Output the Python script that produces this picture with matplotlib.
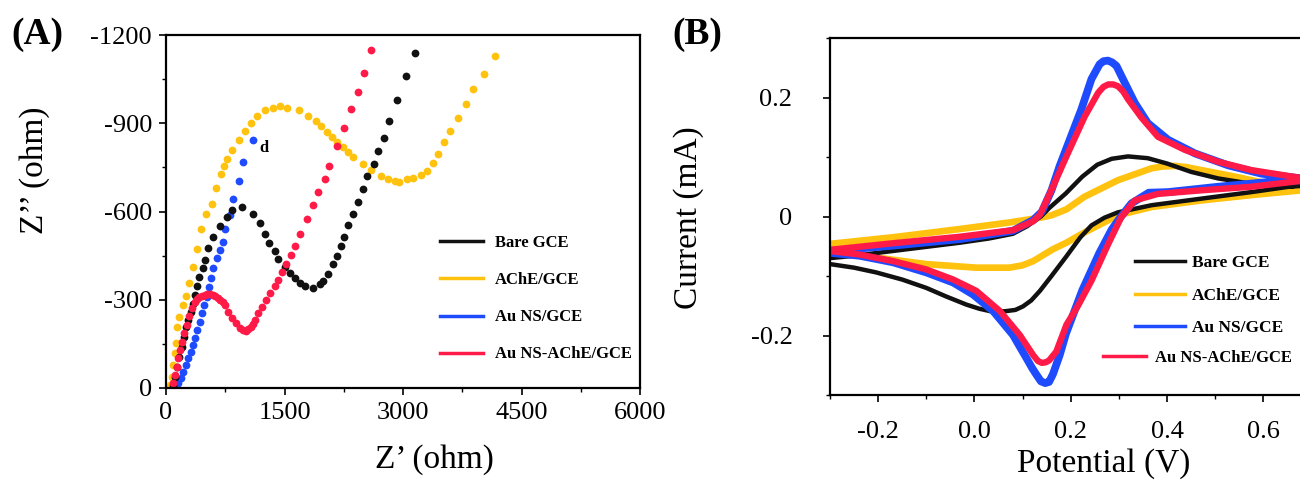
import matplotlib
matplotlib.use("Agg")
import matplotlib.pyplot as plt
from matplotlib.lines import Line2D
from matplotlib.ticker import MultipleLocator

plt.rcParams['font.family'] = ['Liberation Serif', 'DejaVu Serif']
plt.rcParams['axes.unicode_minus'] = False

series = ["Bare GCE", "AChE/GCE", "Au NS/GCE", "Au NS-AChE/GCE"]
colors = ["#111111", "#FFC20E", "#1F4BFF", "#FF1A47"]

# ---- (A) Nyquist data, Z' and Z'' in ohm ----
bare_zre = [93, 114, 135, 169, 198, 228, 253, 283, 313, 338, 367, 395, 422, 464, 494, 536, 591, 684, 768, 832,
            958, 1105, 1190, 1253, 1308, 1380, 1422, 1507, 1570, 1633, 1696, 1760, 1865, 1950, 1984, 2055, 2118,
            2165, 2211, 2258, 2308, 2363, 2435, 2498, 2549, 2634, 2688, 2764, 2823, 2921, 3042, 3156]
bare_zim = [-10, -38, -72, -106, -140, -174, -208, -231, -259, -285, -316, -347, -378, -407, -435, -475, -512,
            -550, -582, -605, -616, -590, -562, -523, -494, -466, -437, -412, -390, -373, -356, -347, -339, -352,
            -363, -386, -420, -449, -483, -514, -554, -592, -633, -676, -720, -763, -806, -850, -908, -979,
            -1061, -1139]

ache_zre = [55, 72, 93, 114, 127, 143, 169, 211, 253, 295, 346, 388, 443, 506, 586, 633, 692, 734, 768, 832,
            920, 1000, 1072, 1156, 1253, 1351, 1443, 1536, 1684, 1794, 1895, 1962, 2034, 2097, 2160, 2245, 2308,
            2371, 2498, 2591, 2718, 2807, 2899, 2954, 3047, 3131, 3225, 3300, 3385, 3448, 3520, 3600, 3693,
            3794, 3891, 4026, 4165]
ache_zim = [-10, -38, -78, -118, -152, -208, -242, -282, -313, -358, -410, -471, -540, -593, -627, -681, -726,
            -754, -778, -808, -842, -874, -901, -924, -946, -953, -959, -952, -944, -925, -908, -890, -870, -853,
            -836, -820, -803, -786, -761, -741, -721, -710, -703, -701, -710, -713, -725, -738, -765, -797, -835,
            -872, -918, -965, -1015, -1069, -1129]

ns_zre = [156, 186, 219, 253, 283, 313, 346, 367, 396, 430, 452, 481, 515, 548, 566, 599, 642, 680, 718, 747,
          810, 852, 928, 979, 1105]
ns_zim = [-16, -33, -55, -78, -101, -123, -146, -169, -197, -225, -254, -282, -310, -344, -373, -407, -441, -470,
          -497, -539, -588, -641, -704, -767, -842]

nsache_zre = [93, 114, 135, 156, 177, 198, 228, 262, 295, 325, 367, 395, 422, 458, 494, 525, 557, 590, 620, 652,
              684, 716, 747, 789, 832, 886, 937, 975, 1013, 1043, 1072, 1100, 1127, 1169, 1212, 1266, 1317, 1380,
              1422, 1465, 1519, 1579, 1633, 1696, 1781, 1857, 1928, 2009, 2068, 2169, 2253, 2342, 2427, 2507, 2595]
nsache_zim = [-16, -44, -72, -101, -129, -157, -186, -214, -245, -271, -293, -302, -308, -313, -316, -318, -319,
              -317, -313, -307, -299, -291, -282, -259, -237, -220, -203, -198, -195, -200, -208, -219, -231, -254,
              -276, -299, -322, -347, -367, -395, -421, -452, -482, -523, -573, -622, -667, -710, -755, -822, -884,
              -947, -1007, -1072, -1148]

# ---- (B) CV data, potential (V) and current (mA): forward then reverse branch ----
bare_E = [-0.30, -0.25, -0.17, -0.10, -0.03, 0.03, 0.08, 0.11, 0.138, 0.155, 0.19, 0.224, 0.255, 0.285, 0.319,
          0.36, 0.40, 0.45, 0.506, 0.575, 0.645, 0.70,
          0.679, 0.575, 0.471, 0.368, 0.298, 0.27, 0.243, 0.22, 0.19, 0.16, 0.136, 0.118, 0.101, 0.085, 0.066,
          0.05, 0.032, 0.01, -0.017, -0.06, -0.10, -0.15, -0.204, -0.25, -0.30]
bare_I = [-0.070, -0.066, -0.058, -0.051, -0.044, -0.037, -0.029, -0.016, 0.0, 0.014, 0.039, 0.067, 0.087, 0.097,
          0.101, 0.098, 0.089, 0.075, 0.064, 0.055, 0.050, 0.052,
          0.053, 0.041, 0.030, 0.019, 0.007, -0.002, -0.015, -0.035, -0.068, -0.100, -0.125, -0.141, -0.151,
          -0.157, -0.159, -0.160, -0.159, -0.155, -0.148, -0.134, -0.120, -0.106, -0.094, -0.086, -0.080]

ache_E = [-0.30, -0.17, -0.03, 0.073, 0.143, 0.16, 0.191, 0.228, 0.298, 0.368, 0.39, 0.416, 0.44, 0.471, 0.541,
          0.61, 0.70,
          0.679, 0.575, 0.471, 0.368, 0.298, 0.228, 0.191, 0.163, 0.122, 0.10, 0.073, 0.004, -0.10, -0.204, -0.30]
ache_I = [-0.046, -0.035, -0.021, -0.010, -0.001, 0.002, 0.012, 0.033, 0.061, 0.081, 0.084, 0.085, 0.083, 0.078,
          0.067, 0.055, 0.046,
          0.044, 0.036, 0.027, 0.016, 0.002, -0.027, -0.044, -0.055, -0.075, -0.082, -0.086, -0.086, -0.080,
          -0.069, -0.052]

ns_E = [-0.30, -0.17, -0.03, 0.08, 0.122, 0.14, 0.16, 0.177, 0.195, 0.222, 0.243, 0.26, 0.268, 0.277, 0.286,
        0.295, 0.312, 0.333, 0.36, 0.402, 0.458, 0.527, 0.596, 0.70,
        0.61, 0.506, 0.402, 0.362, 0.326, 0.298, 0.285, 0.259, 0.224, 0.19, 0.177, 0.163, 0.155, 0.147, 0.138,
        0.128, 0.12, 0.108, 0.08, 0.039, -0.003, -0.044, -0.10, -0.169, -0.238, -0.30]
ns_I = [-0.058, -0.049, -0.038, -0.024, -0.006, 0.008, 0.044, 0.085, 0.123, 0.18, 0.231, 0.256, 0.261, 0.262,
        0.259, 0.253, 0.225, 0.191, 0.157, 0.129, 0.106, 0.086, 0.072, 0.062,
        0.058, 0.050, 0.041, 0.040, 0.022, -0.007, -0.022, -0.062, -0.124, -0.197, -0.233, -0.265, -0.278,
        -0.280, -0.277, -0.265, -0.255, -0.238, -0.199, -0.159, -0.131, -0.111, -0.094, -0.077, -0.066, -0.061]

nsache_E = [-0.30, -0.17, -0.03, 0.08, 0.122, 0.136, 0.163, 0.191, 0.229, 0.257, 0.268, 0.278, 0.288, 0.298,
            0.309, 0.319, 0.347, 0.381, 0.437, 0.506, 0.575, 0.70,
            0.575, 0.471, 0.381, 0.333, 0.305, 0.278, 0.243, 0.215, 0.191, 0.17, 0.155, 0.148, 0.140, 0.132,
            0.122, 0.094, 0.053, 0.004, -0.044, -0.10, -0.169, -0.238, -0.30]
nsache_I = [-0.056, -0.045, -0.034, -0.023, -0.008, 0.003, 0.05, 0.101, 0.168, 0.208, 0.218, 0.222, 0.222, 0.219,
            0.210, 0.197, 0.166, 0.134, 0.112, 0.092, 0.078, 0.062,
            0.050, 0.044, 0.038, 0.027, -0.001, -0.046, -0.108, -0.150, -0.182, -0.227, -0.242, -0.245, -0.246,
            -0.243, -0.233, -0.199, -0.159, -0.125, -0.106, -0.089, -0.075, -0.064, -0.058]

fig = plt.figure(figsize=(13, 4.84), dpi=100)

# ---------------- panel A ----------------
axA = fig.add_axes([166 / 1300, 96 / 484, 474 / 1300, 353 / 484])
nyq = [(ache_zre, ache_zim, colors[1]), (ns_zre, ns_zim, colors[2]),
       (bare_zre, bare_zim, colors[0]), (nsache_zre, nsache_zim, colors[3])]
for zx, zy, c in nyq:
    axA.plot(zx, zy, 'o', ms=5.6, color=c, mec='none')
axA.set_xlim(0, 6000)
axA.set_ylim(0, -1200)
axA.set_xticks([0, 1500, 3000, 4500, 6000])
axA.set_yticks([0, -300, -600, -900, -1200])
axA.xaxis.set_minor_locator(MultipleLocator(750))
axA.yaxis.set_minor_locator(MultipleLocator(150))
axA.tick_params(which='major', direction='out', length=5, width=1.2, labelsize=19, pad=5)
axA.tick_params(which='minor', direction='out', length=3, width=1.0)
for s in axA.spines.values():
    s.set_linewidth(1.6)
axA.set_xlabel("Z’ (ohm)", fontsize=24)
axA.set_ylabel("Z’’ (ohm)", fontsize=24)
axA.xaxis.set_label_coords(0.567, -0.16)
axA.yaxis.set_label_coords(-0.245, 0.617)
axA.text(1180, -815, "d", fontsize=12, fontweight='bold', va='center')
axA.legend(handles=[Line2D([], [], color=c, lw=2.5) for c in colors], labels=series,
           loc='upper left', bbox_to_anchor=(440 / 1300, 1 - 235 / 484), bbox_transform=fig.transFigure,
           frameon=False, prop={'size': 12, 'weight': 'bold'}, handlelength=2.6, handletextpad=0.7,
           labelspacing=1.27, borderpad=0, borderaxespad=0)
fig.text(37 / 1300, 1 - 35 / 484, "(A)", fontsize=27, fontweight='bold', ha='center', va='center')

# ---------------- panel B ----------------
axB = fig.add_axes([830 / 1300, 89 / 484, 481.5 / 1300, 357 / 484])
cv = [(ache_E, ache_I, colors[1], 4.8), (bare_E, bare_I, colors[0], 3.2),
      (ns_E, ns_I, colors[2], 5.6), (nsache_E, nsache_I, colors[3], 4.6)]
for e, i, c, lw in cv:
    axB.plot(e, i, color=c, lw=lw, solid_joinstyle='round', solid_capstyle='round')
axB.set_xlim(-0.3, 0.7)
axB.set_ylim(-0.3, 0.3)
axB.set_xticks([-0.2, 0.0, 0.2, 0.4, 0.6])
axB.set_xticklabels(["-0.2", "0.0", "0.2", "0.4", "0.6"])
axB.set_yticks([-0.2, 0.0, 0.2])
axB.set_yticklabels(["-0.2", "0", "0.2"])
axB.xaxis.set_minor_locator(MultipleLocator(0.1))
axB.yaxis.set_minor_locator(MultipleLocator(0.1))
axB.tick_params(which='major', direction='out', length=5, width=1.2, labelsize=19)
axB.tick_params(axis='y', which='major', pad=22)
axB.tick_params(axis='x', which='major', pad=14)
axB.tick_params(which='minor', direction='out', length=3, width=1.0)
for s in axB.spines.values():
    s.set_linewidth(1.6)
axB.set_xlabel("Potential (V)", fontsize=24)
axB.set_ylabel("Current (mA)", fontsize=24)
axB.xaxis.set_label_coords(0.569, -0.148)
axB.yaxis.set_label_coords(-0.262, 0.497)
hB = [Line2D([], [], color=c, lw=2.5) for c in colors]
legB = axB.legend(handles=hB[:3], labels=series[:3],
                  loc='upper left', bbox_to_anchor=(1135 / 1300, 1 - 255 / 484), bbox_transform=fig.transFigure,
                  frameon=False, prop={'size': 12.5, 'weight': 'bold'}, handlelength=2.9, handletextpad=0.4,
                  labelspacing=0.95, borderpad=0, borderaxespad=0)
axB.add_artist(legB)
axB.legend(handles=hB[3:], labels=series[3:],
           loc='upper left', bbox_to_anchor=(1103 / 1300, 1 - 350 / 484), bbox_transform=fig.transFigure,
           frameon=False, prop={'size': 12, 'weight': 'bold'}, handlelength=2.6, handletextpad=0.5,
           borderpad=0, borderaxespad=0)
fig.text(697 / 1300, 1 - 35 / 484, "(B)", fontsize=27, fontweight='bold', ha='center', va='center')

fig.savefig("out.png", dpi=100)
